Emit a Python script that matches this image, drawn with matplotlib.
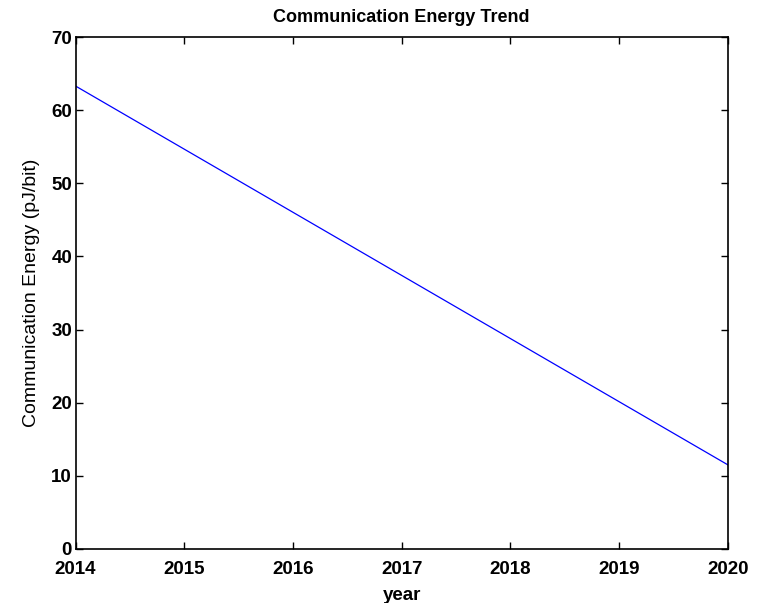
import matplotlib
matplotlib.use("Agg")
import matplotlib.pyplot as plt

# energy per bit at the start and end of the trend window
years = [2014, 2020]
energy = [63.3, 11.5]
xticks = [2014, 2015, 2016, 2017, 2018, 2019, 2020]
yticks = [0, 10, 20, 30, 40, 50, 60, 70]

plt.rcParams["font.family"] = ["Liberation Sans", "DejaVu Sans"]

fig = plt.figure(figsize=(7.63, 6.03), dpi=100)
ax = fig.add_axes([0.099, 0.0896, 0.855, 0.849])

ax.plot(years, energy, color="#0000ff", linewidth=0.9)

ax.set_xlim(2014, 2020)
ax.set_ylim(0, 70)
ax.set_xticks(xticks)
ax.set_yticks(yticks)
ax.set_xticklabels([str(x) for x in xticks], fontsize=13.5, fontweight="bold")
ax.set_yticklabels([str(y) for y in yticks], fontsize=13.5, fontweight="bold")
ax.tick_params(axis="x", pad=9)
ax.tick_params(axis="y", pad=2.5)
ax.tick_params(direction="in", length=5, width=1, top=True, right=True, colors="black")
for s in ax.spines.values():
    s.set_linewidth(1.2)

ax.set_title("Communication Energy Trend", fontsize=13, fontweight="bold", pad=11)
ax.set_xlabel("year", fontsize=13.5, fontweight="bold", labelpad=6)
ax.set_ylabel("Communication Energy (pJ/bit)", fontsize=14, labelpad=8)

fig.savefig("out.png", dpi=100)
